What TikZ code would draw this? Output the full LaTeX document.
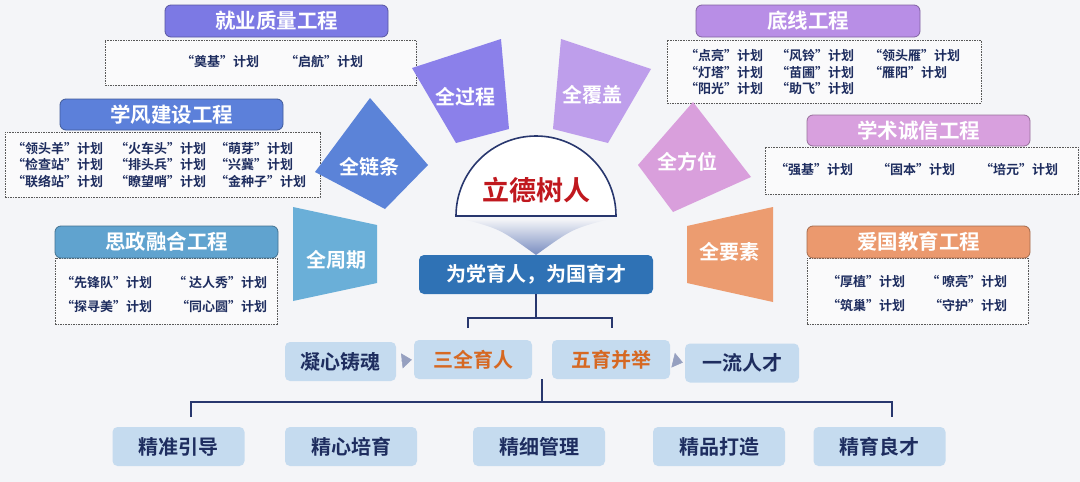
\documentclass[tikz,border=0pt]{standalone}
\usepackage{fontspec}
\setmainfont{Noto Sans CJK SC}[BoldFont={Noto Sans CJK SC Bold}]
\usetikzlibrary{arrows.meta}
\definecolor{bgc}{RGB}{244,245,248}
\definecolor{navy}{RGB}{30,45,95}
\definecolor{bracec}{RGB}{40,55,110}
\definecolor{redc}{RGB}{192,24,30}
\definecolor{orangec}{RGB}{214,104,34}
\definecolor{pillc}{RGB}{197,219,239}
\definecolor{missionc}{RGB}{47,114,181}
\definecolor{funnelc}{RGB}{120,140,192}
\definecolor{arrowc}{RGB}{150,160,192}
\definecolor{jyc}{RGB}{124,121,228}
\definecolor{xfc}{RGB}{92,128,218}
\definecolor{szc}{RGB}{96,163,207}
\definecolor{dxc}{RGB}{184,142,230}
\definecolor{xsc}{RGB}{216,160,222}
\definecolor{agc}{RGB}{235,153,110}
\definecolor{guoc}{RGB}{139,128,234}
\definecolor{fugc}{RGB}{190,158,235}
\definecolor{lianc}{RGB}{91,131,216}
\definecolor{fangc}{RGB}{217,159,220}
\definecolor{zhouc}{RGB}{106,175,216}
\definecolor{yaoc}{RGB}{236,156,112}

\begin{document}
\begin{tikzpicture}[x=1pt, y=-1pt, every node/.style={font=\bfseries}, >={Triangle[length=10pt, width=15pt]},
	title/.style={draw=#1!70!black, fill=#1, rounded corners=6pt, line width=0.8pt, minimum width=223pt, minimum height=32pt, text=white, font=\fontsize{20.5}{24}\selectfont\bfseries},
	plan/.style={draw=black!65, dash pattern=on 1.6pt off 1pt, fill=white!50!bgc, line width=0.6pt},
	plantext/.style={anchor=west, align=left, inner sep=0pt, text=navy, font=\fontsize{13}{16.5}\selectfont\bfseries},
	fantext/.style={text=white, font=\fontsize{20}{24}\selectfont\bfseries},
	pill/.style={fill=pillc, rounded corners=5pt, minimum height=39pt, text=navy, font=\fontsize{20}{24}\selectfont\bfseries},
	brace/.style={draw=bracec, line width=1.4pt}]
	\fill[bgc] (0,0) rectangle (1080,482);
	\useasboundingbox (0,0) rectangle (1080,482);
	% left column
	\node[plan, minimum width=311pt, minimum height=45pt] (jyBox) at (260.5,62.5) {};
	\node[title=jyc] (jyTitle) at (276.5,21) {就业质量工程};
	\node[plantext] (jyText) at (181,62) {\makebox[104pt][l]{“奠基”计划}“启航”计划};
	\node[plan, minimum width=315pt, minimum height=65pt] (xfBox) at (162.5,164.5) {};
	\node[title=xfc, minimum height=31pt] (xfTitle) at (171.5,114.5) {学风建设工程};
	\node[plantext] (xfText) at (12,165) {\makebox[103pt][l]{“领头羊”计划}\makebox[100pt][l]{“火车头”计划}“萌芽”计划\\
		\makebox[103pt][l]{“检查站”计划}\makebox[100pt][l]{“排头兵”计划}“兴冀”计划\\
		\makebox[103pt][l]{“联络站”计划}\makebox[100pt][l]{“瞭望哨”计划}“金种子”计划};
	\node[plan, minimum width=222pt, minimum height=66pt] (szBox) at (166,291) {};
	\node[title=szc] (szTitle) at (166.5,242) {思政融合工程};
	\node[plantext, font=\fontsize{13}{24}\selectfont\bfseries] (szText) at (61,294) {\makebox[110pt][l]{“先锋队”计划}\makebox[96pt][r]{“ 达人秀”计划}\\
		\makebox[110pt][l]{“探寻美”计划}\makebox[96pt][r]{“同心圆”计划}};
	% right column
	\node[plan, minimum width=314pt, minimum height=63pt] (dxBox) at (824,71.5) {};
	\node[title=dxc, minimum width=224pt] (dxTitle) at (808,21) {底线工程};
	\node[plantext] (dxText) at (685,72) {\makebox[91pt][l]{“点亮”计划}\makebox[93pt][l]{“风铃”计划}“领头雁”计划\\
		\makebox[91pt][l]{“灯塔”计划}\makebox[93pt][l]{“苗圃”计划}“雁阳”计划\\
		\makebox[91pt][l]{“阳光”计划}\makebox[93pt][l]{“助飞”计划}};
	\node[plan, minimum width=313pt, minimum height=47pt] (xsBox) at (921.5,170.5) {};
	\node[title=xsc, minimum height=31pt] (xsTitle) at (918.5,130.5) {学术诚信工程};
	\node[plantext] (xsText) at (775,170) {\makebox[102pt][l]{“强基”计划}\makebox[103pt][l]{“固本”计划}“培元”计划};
	\node[plan, minimum width=221pt, minimum height=66pt] (agBox) at (917.5,291) {};
	\node[title=agc] (agTitle) at (918.5,242) {爱国教育工程};
	\node[plantext, font=\fontsize{13}{24}\selectfont\bfseries] (agText) at (827,294) {\makebox[93pt][l]{“厚植”计划}\makebox[87pt][r]{“ 嘹亮”计划}\\
		\makebox[93pt][l]{“筑巢”计划}\makebox[87pt][r]{“守护”计划}};
	% fan of six
	\fill[guoc] (412,68) -- (501,39) -- (509,129) -- (456,143) -- cycle;
	\fill[fugc] (561,39) -- (651,69) -- (608,143) -- (553,129) -- cycle;
	\fill[lianc] (370,98) -- (428,165) -- (385,209) -- (315,172) -- cycle;
	\fill[fangc] (693,102) -- (751,177) -- (673,212) -- (638,165) -- cycle;
	\fill[zhouc] (293,207) -- (377,225) -- (377,283) -- (293,301) -- cycle;
	\fill[yaoc] (687,226) -- (773,207) -- (773,302) -- (687,283) -- cycle;
	\node[fantext] (guocheng) at (465,97) {全过程};
	\node[fantext] (fugai) at (592,95) {全覆盖};
	\node[fantext] (liantiao) at (369,167) {全链条};
	\node[fantext] (fangwei) at (687,162) {全方位};
	\node[fantext] (zhouqi) at (336,260) {全周期};
	\node[fantext] (yaosu) at (729,252) {全要素};
	% centre
	\shade[top color=bgc, bottom color=funnelc] (463,219) .. controls (500,229) .. (536,255) .. controls (572,229) .. (609,219) -- cycle;
	\filldraw[fill=white, draw=bracec, line width=1.6pt] (456,216) arc[start angle=180, end angle=360, radius=80] -- cycle;
	\node[text=redc, font=\fontsize{27}{30}\selectfont\bfseries] (lide) at (536,190) {立德树人};
	\node[fill=missionc, rounded corners=5pt, minimum width=234pt, minimum height=39pt, text=white, font=\fontsize{20}{24}\selectfont\bfseries] (mission) at (536,274.5) {为党育人，为国育才};
	% middle row
	\node[pill, minimum width=111pt] (ningxin) at (340.5,361.5) {凝心铸魂};
	\node[pill, minimum width=118pt, text=orangec] (sanquan) at (473,359.5) {三全育人};
	\node[pill, minimum width=118pt, text=orangec] (wuyu) at (611,359.5) {五育并举};
	\node[pill, minimum width=114pt] (yiliu) at (742,363) {一流人才};
	\foreach \a/\b in {ningxin/sanquan, wuyu/yiliu} {\draw[->, draw=arrowc, line width=0.5pt, shorten <=5pt, shorten >=2pt] (\a.east) -- (\b.west);}
	\coordinate (upL) at (468,328);
	\coordinate (upR) at (612,328);
	\draw[brace] (mission.south) -- ++(0,24);
	\draw[brace] (upL) -- ++(0,-10) -| (upR);
	% bottom row
	\foreach \n/\x/\t in {jingzhun/178.5/精准引导, jingxin/351/精心培育, jingxi/539/精细管理, jingpin/719/精品打造, jingyu/879.5/精育良才}
		{\node[pill, minimum width=132pt] (\n) at (\x,446.5) {\t};}
	\coordinate (lowTop) at (542,379);
	\coordinate (lowL) at (191,417);
	\coordinate (lowR) at (892,417);
	\draw[brace] (lowTop) -- ++(0,23);
	\draw[brace] (lowL) -- ++(0,-15) -| (lowR);
\end{tikzpicture}
\end{document}
